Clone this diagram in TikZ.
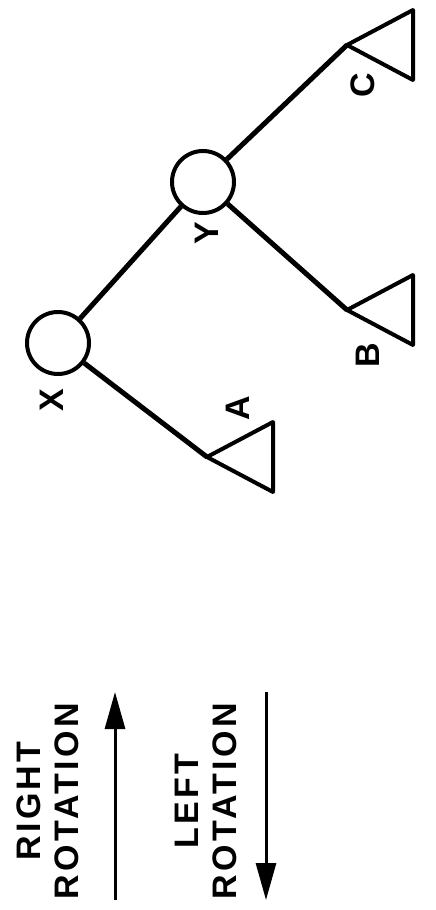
\documentclass[tikz,border=0pt]{standalone}
\usepackage{fontspec}
\setmainfont{Liberation Sans}[LetterSpace=10]
\usepackage{tikz}
\usetikzlibrary{arrows.meta}
\colorlet{colfg}{black}
\tikzstyle{treenode}=[circle, draw=colfg, line width=4pt, minimum size=62pt, inner sep=0pt]
\tikzstyle{edge}=[line width=5pt, colfg]
\tikzstyle{subtree}=[line width=4pt, colfg, line join=round]
\tikzstyle{labelsty}=[font=\fontsize{34}{38}\selectfont\bfseries, rotate=90, inner sep=0pt]
\tikzstyle{rotarrow}=[line width=3pt, -{Triangle[length=37pt,width=20pt]}]

\begin{document}
\begin{tikzpicture}[x=1pt,y=-1pt]
      \useasboundingbox (0,0) rectangle (436,910);

      % Tree nodes
      \node[treenode] (x) at (58,343) {};
      \node[treenode] (y) at (203,182) {};
      \node[labelsty] (xl) at (52,400) {X};
      \node[labelsty] (yl) at (207,233) {Y};

      % Subtrees
      \coordinate (ta) at (207,457);
      \coordinate (tb) at (347,310);
      \coordinate (tc) at (347,45);
      \draw[subtree] (ta) -- ++(66,-35) -- ++(0,70) -- cycle;
      \draw[subtree] (tb) -- ++(66,-35) -- ++(0,70) -- cycle;
      \draw[subtree] (tc) -- ++(66,-35) -- ++(0,70) -- cycle;
      \node[labelsty] (al) at (238,408) {A};
      \node[labelsty] (bl) at (368,355) {B};
      \node[labelsty] (cl) at (363,85) {C};

      \draw[edge] (x) -- (y) (x) -- (ta) (y) -- (tb) (y) -- (tc);

      % Rotation arrows
      \coordinate (r0) at (115,900);
      \coordinate (r1) at (115,692);
      \coordinate (l0) at (266,692);
      \coordinate (l1) at (266,900);
      \draw[rotarrow] (r0) -- (r1);
      \draw[rotarrow] (l0) -- (l1);
      \node[labelsty, align=center] (rl) at (48,801) {RIGHT\\ROTATION};
      \node[labelsty, align=center] (ll) at (206,801) {LEFT\\ROTATION};
    \end{tikzpicture}
\end{document}
